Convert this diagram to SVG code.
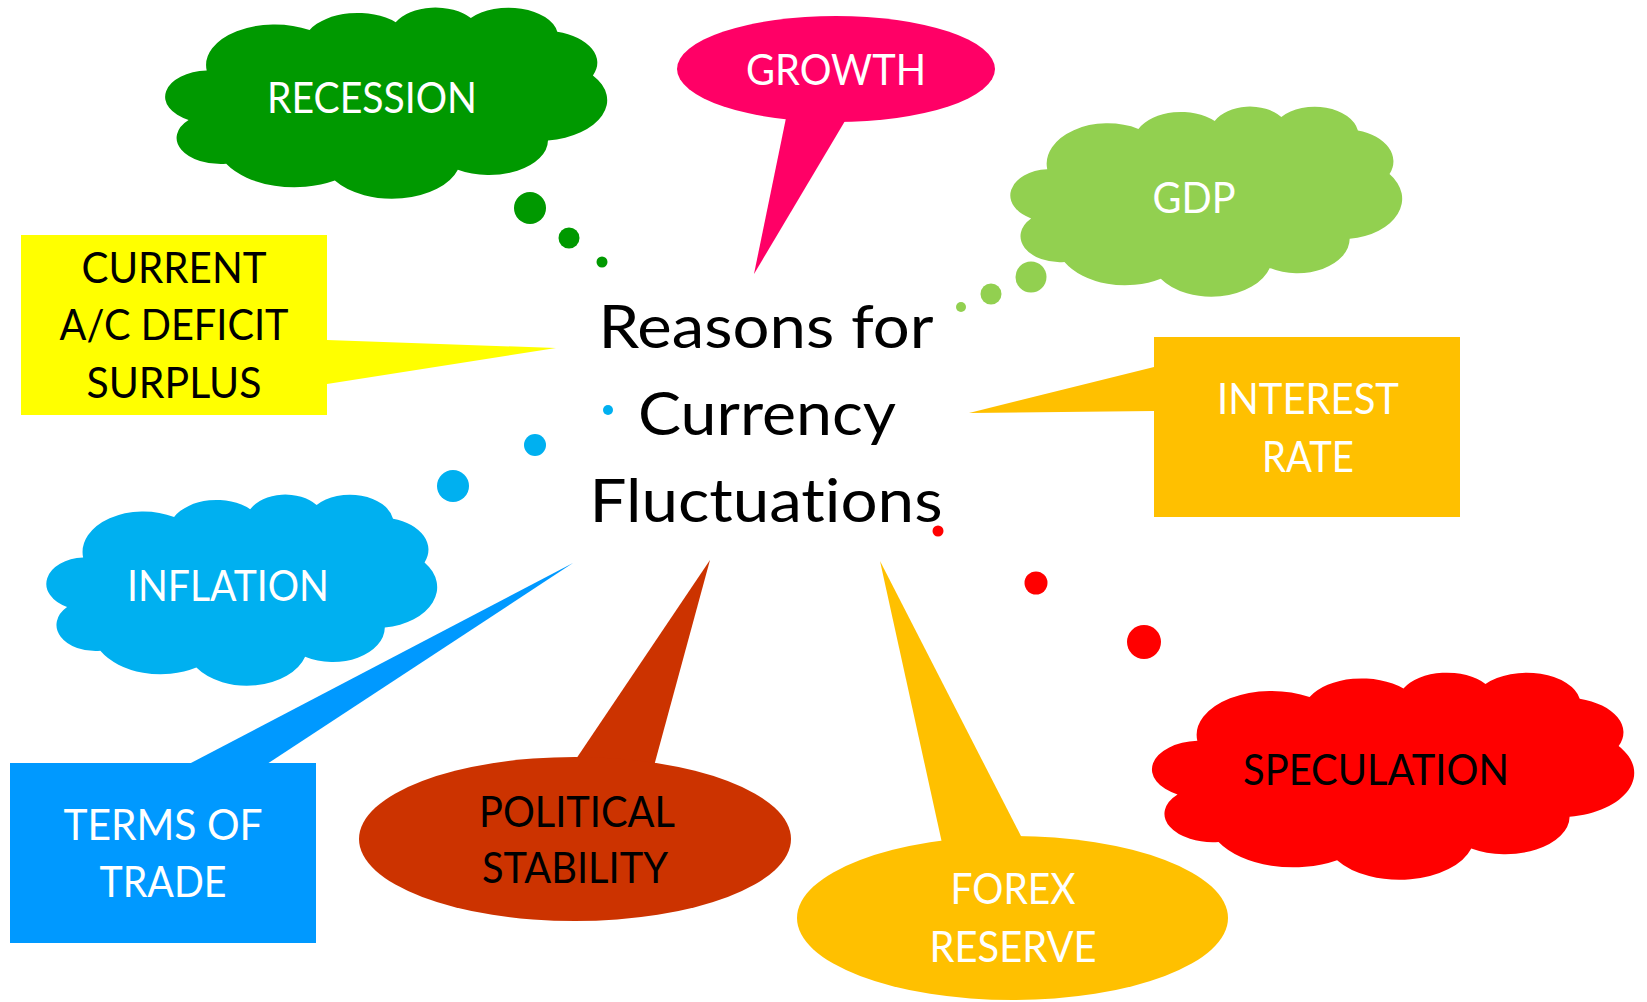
<svg xmlns="http://www.w3.org/2000/svg" xmlns:xlink="http://www.w3.org/1999/xlink" width="1647" height="1002" viewBox="0 0 1647 1002">
<style>
.lbl{font-family:Lato,"Open Sans","Liberation Sans",sans-serif;font-size:42px;text-anchor:middle;fill:#fff;font-variant-ligatures:none}
.dark{fill:#000}
.title{font-family:Lato,"Open Sans","Liberation Sans",sans-serif;font-size:60px;text-anchor:middle;fill:#000;font-variant-ligatures:none;font-feature-settings:"liga" 0,"dlig" 0}
</style>
<defs>
<path id="cloud" d="M3900 14370 A6753 9190 0 0 1 14003 5202 A5333 7267 0 0 1 22453 3431 A4365 5945 0 0 1 29833 2487 A4857 6595 0 0 1 38318 5582 A5333 7273 0 0 1 41819 15466 A6775 9220 0 0 1 37405 30209 A5785 7867 0 0 1 28556 36819 A6752 9215 0 0 1 16480 39269 A7720 10543 0 0 1 5811 35473 A4360 5918 0 0 1 2118 25552 A4345 5945 0 0 1 3900 14370 Z"/>
</defs>
<rect width="1647" height="1002" fill="#fff"/>
<g id="connectors">
  <polygon points="786,118 845,121 754,274" fill="#FF0066"/>
  <polygon points="327,340 556,348 327,384" fill="#FFFF00"/>
  <polygon points="1154,367 969,413 1154,411" fill="#FFC000"/>
  <polygon points="189,764 573,563 267,764" fill="#0099FF"/>
  <polygon points="574,762 710,560 654,766" fill="#CC3300"/>
  <polygon points="942,843 880,561 1023,840" fill="#FFC000"/>
  <g fill="#009900"><circle cx="530" cy="208" r="16"/><circle cx="569" cy="238" r="10.5"/><circle cx="602" cy="262" r="5.5"/></g>
  <g fill="#92D050"><circle cx="1031" cy="277" r="15.5"/><circle cx="991" cy="294" r="10.5"/><circle cx="961" cy="307" r="5"/></g>
  <g fill="#00B0F0"><circle cx="453" cy="486" r="16"/><circle cx="535" cy="445" r="11"/><circle cx="608" cy="410" r="5"/></g>
  <g fill="#FF0000"><circle cx="1144" cy="642" r="17"/><circle cx="1036" cy="583" r="11.5"/><circle cx="938" cy="531" r="5.5"/></g>
</g>
<g id="recession">
  <use xlink:href="#cloud" transform="translate(167,7) scale(0.010185,0.0044213)" fill="#009900"/>
  <text class="lbl" x="372" y="113" textLength="210" lengthAdjust="spacingAndGlyphs">RECESSION</text>
</g>
<g id="growth">
  <ellipse cx="836" cy="69" rx="159" ry="53" fill="#FF0066"/>
  <text class="lbl" x="836" y="85" textLength="180" lengthAdjust="spacingAndGlyphs">GROWTH</text>
</g>
<g id="gdp">
  <use xlink:href="#cloud" transform="translate(1012,106) scale(0.0090278,0.0043981)" fill="#92D050"/>
  <text class="lbl" x="1194" y="213" textLength="83" lengthAdjust="spacingAndGlyphs">GDP</text>
</g>
<g id="current-account">
  <rect x="21" y="235" width="306" height="180" fill="#FFFF00"/>
  <text class="lbl dark" x="174" y="283" textLength="185" lengthAdjust="spacingAndGlyphs">CURRENT</text>
  <text class="lbl dark" x="174" y="340" textLength="229" lengthAdjust="spacingAndGlyphs">A/C DEFICIT</text>
  <text class="lbl dark" x="174" y="398" textLength="175" lengthAdjust="spacingAndGlyphs">SURPLUS</text>
</g>
<g id="center">
  <text class="title" x="766" y="348" textLength="335" lengthAdjust="spacingAndGlyphs">Reasons for</text>
  <text class="title" x="767" y="435" textLength="258" lengthAdjust="spacingAndGlyphs">Currency</text>
  <text class="title" x="766" y="522" textLength="353" lengthAdjust="spacingAndGlyphs">Fluctuations</text>
</g>
<g id="interest-rate">
  <rect x="1154" y="337" width="306" height="180" fill="#FFC000"/>
  <text class="lbl" x="1308" y="414" textLength="182" lengthAdjust="spacingAndGlyphs">INTEREST</text>
  <text class="lbl" x="1308" y="472" textLength="92" lengthAdjust="spacingAndGlyphs">RATE</text>
</g>
<g id="inflation">
  <use xlink:href="#cloud" transform="translate(48,494) scale(0.0090046,0.0044213)" fill="#00B0F0"/>
  <text class="lbl" x="228" y="601" textLength="202" lengthAdjust="spacingAndGlyphs">INFLATION</text>
</g>
<g id="terms-of-trade">
  <rect x="10" y="763" width="306" height="180" fill="#0099FF"/>
  <text class="lbl" x="163" y="840" textLength="199" lengthAdjust="spacingAndGlyphs">TERMS OF</text>
  <text class="lbl" x="163" y="897" textLength="127" lengthAdjust="spacingAndGlyphs">TRADE</text>
</g>
<g id="political-stability">
  <ellipse cx="575" cy="839" rx="216" ry="82" fill="#CC3300"/>
  <text class="lbl dark" x="577" y="827" textLength="196" lengthAdjust="spacingAndGlyphs">POLITICAL</text>
  <text class="lbl dark" x="575" y="883" textLength="186" lengthAdjust="spacingAndGlyphs">STABILITY</text>
</g>
<g id="forex-reserve">
  <ellipse cx="1012.5" cy="918" rx="215.5" ry="82" fill="#FFC000"/>
  <text class="lbl" x="1013" y="904" textLength="125" lengthAdjust="spacingAndGlyphs">FOREX</text>
  <text class="lbl" x="1013" y="962" textLength="167" lengthAdjust="spacingAndGlyphs">RESERVE</text>
</g>
<g id="speculation">
  <use xlink:href="#cloud" transform="translate(1154,672) scale(0.011111,0.0047917)" fill="#FF0000"/>
  <text class="lbl dark" x="1376" y="785" textLength="266" lengthAdjust="spacingAndGlyphs">SPECULATION</text>
</g>
</svg>
